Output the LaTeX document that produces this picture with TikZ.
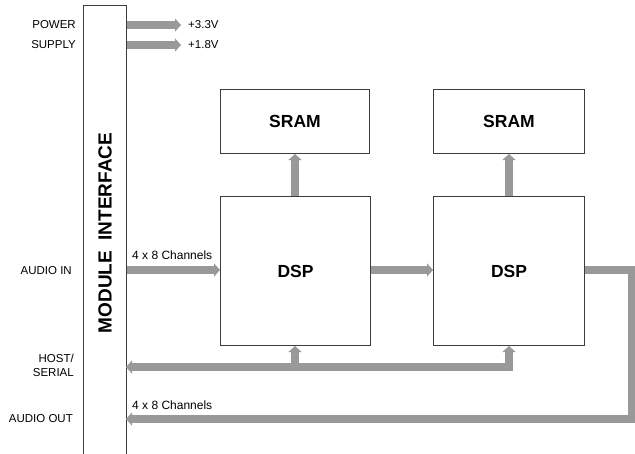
\documentclass[tikz,border=0pt]{standalone}
\usepackage{fontspec}
\setmainfont{Liberation Sans}
\usetikzlibrary{arrows.meta}
\definecolor{bus}{RGB}{153,153,153}
\definecolor{edge}{RGB}{60,60,60}
\tikzset{
  box/.style={draw=edge, line width=1pt, fill=white, inner sep=0pt},
  bus/.style={draw=bus, line width=7.5pt, -{Triangle[length=6pt,width=13pt]}, line join=miter},
  busplain/.style={draw=bus, line width=7.5pt, line join=miter},
  lbl/.style={font=\fontsize{11.5}{13}\selectfont, inner sep=0pt},
  chl/.style={font=\fontsize{12}{13}\selectfont, inner sep=0pt},
  big/.style={font=\fontsize{17.5}{20}\selectfont\bfseries}
}
\begin{document}
\begin{tikzpicture}[x=1pt,y=-1pt]
\useasboundingbox (0,0) rectangle (635,453);
\clip (0,0) rectangle (635,453);
% module interface
\node[box, minimum width=43pt, minimum height=460pt, anchor=north west] (mi) at (83,5) {};
\node[rotate=90, font=\fontsize{19}{21}\selectfont\bfseries] (mitxt) at (105,233) {MODULE\ \ INTERFACE};
% boxes
\node[box, minimum width=149pt, minimum height=64pt, anchor=north west] (sram1) at (220,89) {};
\node[big] at (sram1.center) {SRAM};
\node[box, minimum width=151pt, minimum height=64pt, anchor=north west] (sram2) at (433,89) {};
\node[big] at (sram2.center) {SRAM};
\node[box, minimum width=150pt, minimum height=149pt, anchor=north west] (dsp1) at (220,196) {};
\node[big] at (dsp1.center) {DSP};
\node[box, minimum width=151pt, minimum height=149pt, anchor=north west] (dsp2) at (433,196) {};
\node[big] at (dsp2.center) {DSP};
% coordinates
\coordinate (p33) at (181,25);
\coordinate (p18) at (181,45);
\coordinate (hostL) at (126,367);
\coordinate (outL) at (126,419);
% power arrows
\draw[bus] (mi.east |- p33) -- (p33);
\draw[bus] (mi.east |- p18) -- (p18);
\node[lbl, anchor=west] (v33) at (188,25) {+3.3V};
\node[lbl, anchor=west] (v18) at (188,45) {+1.8V};
% audio in
\draw[bus] (mi.east |- 0,270) -- (dsp1.west |- 0,270);
\draw[bus] (dsp1.east |- 0,270) -- (dsp2.west |- 0,270);
\node[chl, anchor=west] (chin) at (132,255) {4 x 8 Channels};
% dsp to sram
\draw[bus] (dsp1.north -| 295,0) -- (sram1.south -| 295,0);
\draw[bus] (dsp2.north -| 509,0) -- (sram2.south -| 509,0);
% host / serial
\draw[busplain] (513,367) -- (509,367) -- (295,367);
\draw[bus] (509,371) -- (dsp2.south -| 509,0);
\draw[bus] (295,367) -- (dsp1.south -| 295,0);
\draw[bus] (295,367) -- (hostL);
% audio out
\draw[bus] (dsp2.east |- 0,270) -- (632,270) -- (632,419) -- (outL);
\node[chl, anchor=west] (chout) at (132,405) {4 x 8 Channels};
% left labels
\node[lbl, anchor=east] (power) at (76,25) {POWER};
\node[lbl, anchor=east] (supply) at (76,45) {SUPPLY};
\node[lbl, anchor=east] (ain) at (72,271) {AUDIO IN};
\node[lbl, anchor=east] (host) at (74,358) {HOST/};
\node[lbl, anchor=east] (serial) at (74,373) {SERIAL};
\node[lbl, anchor=east] (aout) at (73,419) {AUDIO OUT};
\end{tikzpicture}
\end{document}
